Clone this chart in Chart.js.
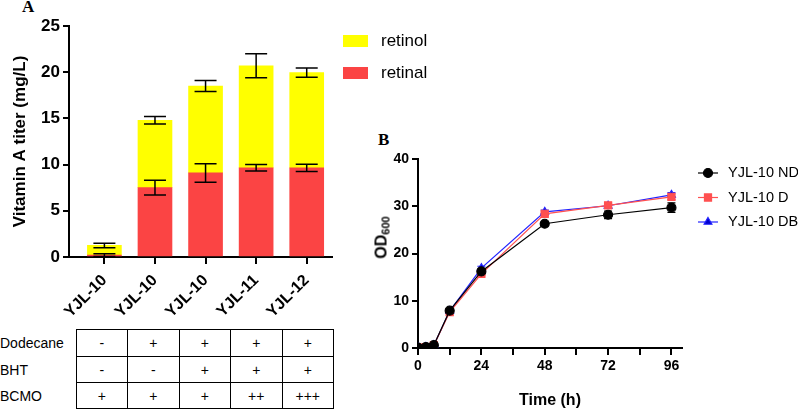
<!DOCTYPE html>
<html>
<head>
<meta charset="utf-8">
<script src="https://cdn.jsdelivr.net/npm/chart.js@4.4.0/dist/chart.umd.min.js"></script>
<style>
    body { margin: 0; background: #fff; width: 798px; height: 410px; position: relative; overflow: hidden;
           font-family: "Liberation Sans", Arial, sans-serif; color: #000; }
    #wrapA { position: absolute; left: 0; top: 0; }
    #wrapB { position: absolute; left: 370px; top: 130px; }
    .panel { position: absolute; font-family: "Liberation Serif", serif; font-weight: bold; font-size: 17px; }
    #condTable { position: absolute; left: 0; top: 329px; border-collapse: collapse; table-layout: fixed; width: 334px; }
    #condTable td { border: 1px solid #000; text-align: center; font-size: 14px; padding: 0; }
    #condTable td.lab { border: none; text-align: left; }
    #odTitle { position: absolute; left: 352px; top: 228px; width: 60px; text-align: center;
               transform: rotate(-90deg); font-weight: bold; font-size: 16px; }
    #odTitle sub { font-size: 11px; vertical-align: -3px; }
</style>
</head>
<body>
<div class="panel" style="left:22px; top:-3px;">A</div>
<div class="panel" style="left:378px; top:130px;">B</div>
<div id="wrapA"><canvas id="chartA" width="460" height="320"></canvas></div>
<div id="wrapB"><canvas id="chartB" width="428" height="280"></canvas></div>
<div id="odTitle">OD<sub>600</sub></div>
<table id="condTable">
    <colgroup><col style="width:76px"><col><col><col><col><col></colgroup>
    <tbody id="condBody"></tbody>
</table>
<script>
// Panel A: vitamin A titer, stacked bars
const categories = ['YJL-10', 'YJL-10', 'YJL-10', 'YJL-11', 'YJL-12'];
const retinal = [0.2, 7.5, 9.1, 9.65, 9.65];
const retinalErr = [0.15, 0.8, 1.0, 0.35, 0.4];
const retinol = [1.05, 7.3, 9.4, 11.05, 10.3];
const retinolErr = [0.25, 0.4, 0.6, 1.3, 0.5];
const yTicksA = [0, 5, 10, 15, 20, 25];

// conditions table under panel A
const condRows = ['Dodecane', 'BHT', 'BCMO'];
const condValues = [
    ['-', '+', '+', '+', '+'],
    ['-', '-', '+', '+', '+'],
    ['+', '+', '+', '++', '+++']
];

// Panel B: growth curves
const hours = [0, 3, 6, 12, 24, 48, 72, 96];
const odND = [0.1, 0.2, 0.6, 7.9, 16.2, 26.3, 28.2, 29.7];
const odNDErr = [0, 0, 0.1, 0.3, 0.5, 0.4, 0.8, 1.0];
const odD = [0.1, 0.2, 0.6, 7.6, 15.7, 28.4, 30.2, 32.0];
const odDErr = [0, 0, 0.1, 0.3, 0.4, 0.4, 0.5, 0.6];
const odDB = [0.1, 0.2, 0.6, 7.8, 16.9, 28.8, 30.1, 32.4];
const odDBErr = [0, 0, 0.1, 0.3, 0.4, 0.4, 0.4, 0.5];
const xTicksB = [0, 12, 24, 36, 48, 60, 72, 84, 96];
const xLabelsB = [0, 24, 48, 72, 96];
const yTicksB = [0, 10, 20, 30, 40];

const RED = '#fb4444';
const YELLOW = '#ffff00';

// build the table
const body = document.getElementById('condBody');
const rowHeights = [27, 26, 26];
condRows.forEach((name, r) => {
    const tr = document.createElement('tr');
    tr.style.height = rowHeights[r] + 'px';
    tr.innerHTML = `<td class="lab">${name}</td>` + condValues[r].map(v => `<td>${v}</td>`).join('');
    body.appendChild(tr);
});

// error bars for the stacked bars
const stackErrors = {
    id: 'stackErrors',
    afterDatasetsDraw(chart) {
        const ctx = chart.ctx;
        const yScale = chart.scales.y;
        ctx.save();
        ctx.strokeStyle = '#000';
        ctx.lineWidth = 1.5;
        chart.data.datasets.forEach((ds, di) => {
            const meta = chart.getDatasetMeta(di);
            meta.data.forEach((bar, i) => {
                let top = 0;
                for (let k = 0; k <= di; k++) top += chart.data.datasets[k].data[i].y;
                const e = ds.errors[i];
                const y1 = yScale.getPixelForValue(top + e);
                const y2 = yScale.getPixelForValue(top - e);
                const half = 11;
                ctx.beginPath();
                ctx.moveTo(bar.x, y1); ctx.lineTo(bar.x, y2);
                ctx.moveTo(bar.x - half, y1); ctx.lineTo(bar.x + half, y1);
                ctx.moveTo(bar.x - half, y2); ctx.lineTo(bar.x + half, y2);
                ctx.stroke();
            });
        });
        ctx.restore();
    },
    afterDraw(chart) {
        // legend, top item is the upper part of the stack
        const ctx = chart.ctx;
        const x = chart.chartArea.right + 11;
        const items = chart.data.datasets.slice().reverse();
        ctx.save();
        ctx.font = '17px "Liberation Sans", Arial, sans-serif';
        ctx.textBaseline = 'middle';
        items.forEach((ds, i) => {
            const y = chart.chartArea.top + 15 + i * 32;
            ctx.fillStyle = ds.backgroundColor;
            ctx.fillRect(x, y - 6, 25, 12);
            ctx.fillStyle = '#000';
            ctx.fillText(ds.label, x + 38, y);
        });
        ctx.restore();
    }
};

new Chart(document.getElementById('chartA'), {
    type: 'bar',
    data: {
        datasets: [
            { label: 'retinal', data: categories.map((c, i) => ({ x: i + 1, y: retinal[i] })),
              errors: retinalErr, backgroundColor: RED, barThickness: 34 },
            { label: 'retinol', data: categories.map((c, i) => ({ x: i + 1, y: retinol[i] })),
              errors: retinolErr, backgroundColor: YELLOW, barThickness: 34 }
        ]
    },
    options: {
        responsive: false,
        animation: false,
        layout: { padding: { top: 26, right: 128, left: 0, bottom: 0 } },
        plugins: { legend: { display: false }, tooltip: { enabled: false } },
        scales: {
            x: {
                type: 'linear', stacked: true, offset: false, min: 0.3, max: 5.5,
                afterBuildTicks: scale => { scale.ticks = categories.map((c, i) => ({ value: i + 1 })); },
                afterFit: scale => { scale.height = 63; },
                grid: { offset: false, drawOnChartArea: false, color: '#000', lineWidth: 2, tickLength: 7 },
                border: { color: '#000', width: 2 },
                ticks: {
                    autoSkip: false, minRotation: 45, maxRotation: 45, color: '#000', padding: 7,
                    font: { family: '"Liberation Sans", Arial', size: 16, weight: 'bold' },
                    callback: v => categories[v - 1]
                }
            },
            y: {
                stacked: true, min: 0, max: 25,
                afterBuildTicks: scale => { scale.ticks = yTicksA.map(v => ({ value: v })); },
                afterFit: scale => { scale.width = 69; },
                grid: { drawOnChartArea: false, color: '#000', lineWidth: 2, tickLength: 6 },
                border: { color: '#000', width: 2 },
                ticks: { color: '#000', padding: 3, font: { family: '"Liberation Sans", Arial', size: 17, weight: 'bold' } },
                title: {
                    display: true, text: 'Vitamin A titer (mg/L)', color: '#000',
                    padding: { top: 10, bottom: 2 },
                    font: { family: '"Liberation Sans", Arial', size: 17, weight: 'bold' }
                }
            }
        }
    },
    plugins: [stackErrors]
});

// error bars and legend for the growth curves
const lineExtras = {
    id: 'lineExtras',
    beforeDatasetsDraw(chart) {
        const ctx = chart.ctx;
        const yScale = chart.scales.y;
        ctx.save();
        ctx.lineWidth = 1.2;
        chart.data.datasets.forEach((ds, di) => {
            const meta = chart.getDatasetMeta(di);
            ctx.strokeStyle = ds.borderColor;
            meta.data.forEach((pt, i) => {
                const e = ds.errors[i];
                if (!e) return;
                const v = ds.data[i].y;
                const y1 = yScale.getPixelForValue(v + e);
                const y2 = yScale.getPixelForValue(v - e);
                ctx.beginPath();
                ctx.moveTo(pt.x, y1); ctx.lineTo(pt.x, y2);
                ctx.moveTo(pt.x - 4, y1); ctx.lineTo(pt.x + 4, y1);
                ctx.moveTo(pt.x - 4, y2); ctx.lineTo(pt.x + 4, y2);
                ctx.stroke();
            });
        });
        ctx.restore();
    },
    afterDraw(chart) {
        const ctx = chart.ctx;
        const x0 = chart.chartArea.right + 16;
        ctx.save();
        ctx.font = '14.5px "Liberation Sans", Arial, sans-serif';
        ctx.textBaseline = 'middle';
        chart.data.datasets.forEach((ds, i) => {
            const y = chart.chartArea.top + 14 + i * 24.5;
            ctx.strokeStyle = ds.borderColor;
            ctx.fillStyle = ds.pointBackgroundColor;
            ctx.lineWidth = 1.2;
            ctx.beginPath();
            ctx.moveTo(x0, y); ctx.lineTo(x0 + 20, y);
            ctx.stroke();
            Chart.helpers.drawPoint(ctx, { pointStyle: ds.pointStyle, radius: ds.pointRadius, borderWidth: 1, rotation: 0 }, x0 + 10, y);
            ctx.fillStyle = '#000';
            ctx.fillText(ds.label, x0 + 30, y);
        });
        ctx.restore();
    }
};

const tickFontB = { family: '"Liberation Sans", Arial', size: 14, weight: 'bold' };

new Chart(document.getElementById('chartB'), {
    type: 'line',
    data: {
        datasets: [
            { label: 'YJL-10 ND', data: hours.map((h, i) => ({ x: h, y: odND[i] })), errors: odNDErr,
              borderColor: '#000', backgroundColor: '#000', pointBackgroundColor: '#000',
              pointStyle: 'circle', pointRadius: 4.5, borderWidth: 1.2, order: 0 },
            { label: 'YJL-10 D', data: hours.map((h, i) => ({ x: h, y: odD[i] })), errors: odDErr,
              borderColor: '#ff5050', backgroundColor: '#ff5050', pointBackgroundColor: '#ff5050',
              pointStyle: 'rect', pointRadius: 5, borderWidth: 1.2, order: 1 },
            { label: 'YJL-10 DB', data: hours.map((h, i) => ({ x: h, y: odDB[i] })), errors: odDBErr,
              borderColor: '#2222ff', backgroundColor: '#0000cc', pointBackgroundColor: '#0000cc',
              pointStyle: 'triangle', pointRadius: 4.5, borderWidth: 1.2, order: 2 }
        ]
    },
    options: {
        responsive: false,
        animation: false,
        layout: { padding: { top: 29, right: 116, left: 0, bottom: 0 } },
        elements: { point: { borderWidth: 1 }, line: { tension: 0 } },
        plugins: { legend: { display: false }, tooltip: { enabled: false } },
        scales: {
            x: {
                type: 'linear', min: 0, max: 100,
                afterBuildTicks: scale => { scale.ticks = xTicksB.map(v => ({ value: v })); },
                afterFit: scale => { scale.height = 62; },
                grid: { drawOnChartArea: false, color: '#000', lineWidth: 2, tickLength: 7 },
                border: { color: '#000', width: 2 },
                ticks: { autoSkip: false, maxRotation: 0, color: '#000', font: tickFontB, padding: 3,
                         callback: v => xLabelsB.includes(v) ? String(v) : '' },
                title: { display: true, text: 'Time (h)', color: '#000', padding: { top: 4, bottom: 0 },
                         font: { family: '"Liberation Sans", Arial', size: 16, weight: 'bold' } }
            },
            y: {
                min: 0, max: 40,
                afterBuildTicks: scale => { scale.ticks = yTicksB.map(v => ({ value: v })); },
                afterFit: scale => { scale.width = 48; },
                grid: { drawOnChartArea: false, color: '#000', lineWidth: 2, tickLength: 6 },
                border: { color: '#000', width: 2 },
                ticks: { color: '#000', font: tickFontB, padding: 3 }
            }
        }
    },
    plugins: [lineExtras]
});
</script>
</body>
</html>
